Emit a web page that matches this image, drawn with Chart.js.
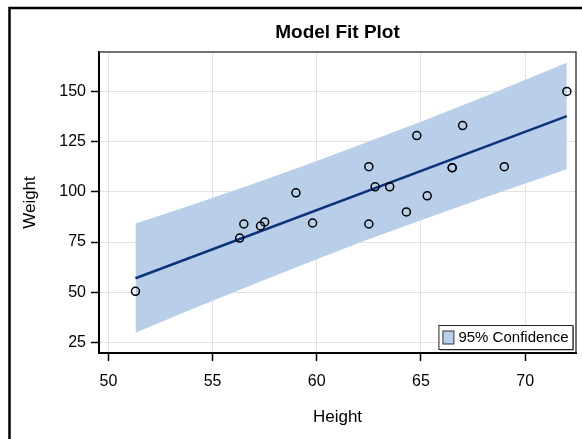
<!DOCTYPE html>
<html lang="en">
<head>
    <meta charset="UTF-8">
    <title>Model Fit Plot</title>
    <script src="https://cdn.jsdelivr.net/npm/chart.js"></script>
    <style>
        body { margin: 0; background: #fff; }
    </style>
</head>
<body>
    <canvas id="fitChart" width="582" height="439"></canvas>

    <script>
    // observed data (Height, Weight)
    const heights = [69.0, 56.5, 65.3, 62.8, 63.5, 57.3, 59.8, 62.5, 62.5, 59.0,
                     51.3, 64.3, 56.3, 66.5, 72.0, 64.8, 67.0, 57.5, 66.5];
    const weights = [112.5, 84.0, 98.0, 102.5, 102.5, 83.0, 84.5, 112.5, 84.0, 99.5,
                     50.5, 90.0, 77.0, 112.0, 150.0, 128.0, 133.0, 85.0, 112.0];

    // regression line end points
    const fitX = [51.3, 72.0];
    const fitY = [57.0, 137.7];

    // 95% band, read at a few heights
    const bandX    = [51.3, 54.0, 57.0, 60.0, 62.3, 65.0, 68.0, 72.0];
    const bandLow  = [29.9, 41.6, 54.2, 66.5, 75.7, 85.9, 97.0, 111.2];
    const bandHigh = [84.2, 93.5, 104.2, 115.4, 124.3, 134.9, 147.2, 164.2];

    const xTicks = [50, 55, 60, 65, 70];
    const yTicks = [25, 50, 75, 100, 125, 150];

    const font = "'Liberation Sans', Arial, sans-serif";
    const bandColor = '#b9cee8';

    const toPts = (xs, ys) => xs.map((x, i) => ({ x: x, y: ys[i] }));

    // white page, outer frame, title, plot frame and inset legend
    const decor = {
        id: 'decor',
        beforeDraw(chart) {
            const ctx = chart.ctx;
            ctx.save();
            ctx.fillStyle = '#fff';
            ctx.fillRect(0, 0, chart.width, chart.height);
            ctx.strokeStyle = '#000';
            ctx.lineWidth = 2.5;
            ctx.beginPath();
            ctx.moveTo(9.5, chart.height);
            ctx.lineTo(9.5, 8);
            ctx.lineTo(chart.width, 8);
            ctx.stroke();

            const a = chart.chartArea;
            ctx.fillStyle = '#000';
            ctx.font = 'bold 19px ' + font;
            ctx.textAlign = 'center';
            ctx.textBaseline = 'middle';
            ctx.fillText('Model Fit Plot', (a.left + a.right) / 2, 33);
            ctx.restore();
        },
        afterDatasetsDraw(chart) {
            const ctx = chart.ctx;
            const a = chart.chartArea;
            ctx.save();
            ctx.strokeStyle = '#444';
            ctx.lineWidth = 1.5;
            ctx.beginPath();
            ctx.moveTo(a.left, a.top);
            ctx.lineTo(a.right, a.top);
            ctx.lineTo(a.right, a.bottom);
            ctx.stroke();

            // legend
            ctx.font = '15px ' + font;
            const label = '95% Confidence';
            const tw = ctx.measureText(label).width;
            const w = tw + 24, h = 24;
            const bx = a.right - 3.5 - w, by = a.bottom - 4 - h;
            ctx.fillStyle = '#888';
            ctx.fillRect(bx + 1.5, by + 1.5, w, h);
            ctx.fillStyle = '#fff';
            ctx.fillRect(bx, by, w, h);
            ctx.strokeStyle = '#222';
            ctx.lineWidth = 1;
            ctx.strokeRect(bx + 0.5, by + 0.5, w, h);
            ctx.fillStyle = bandColor;
            ctx.fillRect(bx + 4.5, by + 6, 11, 13);
            ctx.strokeStyle = '#333';
            ctx.strokeRect(bx + 4.5, by + 6, 11, 13);
            ctx.fillStyle = '#000';
            ctx.textAlign = 'left';
            ctx.textBaseline = 'middle';
            ctx.fillText(label, bx + 20, by + h / 2 + 1);
            ctx.restore();
        }
    };

    new Chart(document.getElementById('fitChart'), {
        type: 'scatter',
        data: {
            datasets: [
                {
                    label: 'Weight',
                    data: toPts(heights, weights),
                    pointRadius: 4,
                    pointBorderWidth: 1.5,
                    pointBorderColor: '#000',
                    pointBackgroundColor: 'rgba(0,0,0,0)'
                },
                {
                    label: 'Fit',
                    data: toPts(fitX, fitY),
                    showLine: true,
                    borderColor: '#0a3479',
                    borderWidth: 2.5,
                    pointRadius: 0
                },
                {
                    label: 'Upper',
                    data: toPts(bandX, bandHigh),
                    showLine: true,
                    borderWidth: 0,
                    pointRadius: 0,
                    backgroundColor: bandColor,
                    fill: 3
                },
                {
                    label: 'Lower',
                    data: toPts(bandX, bandLow),
                    showLine: true,
                    borderWidth: 0,
                    pointRadius: 0,
                    fill: false
                }
            ]
        },
        options: {
            responsive: false,
            animation: false,
            layout: { padding: { top: 52, right: 6, left: 0, bottom: 0 } },
            plugins: {
                legend: { display: false },
                tooltip: { enabled: false }
            },
            scales: {
                x: {
                    type: 'linear',
                    min: 49.55,
                    max: 72.44,
                    afterBuildTicks: s => { s.ticks = xTicks.map(v => ({ value: v })); },
                    afterFit: s => { s.height = 86; },
                    grid: { color: '#e2e2e2', tickColor: '#000', tickLength: 8, tickWidth: 1.5 },
                    border: { color: '#000', width: 2 },
                    ticks: { color: '#000', padding: 11, font: { family: font, size: 16 } },
                    title: {
                        display: true, text: 'Height', color: '#000',
                        font: { family: font, size: 17 }, padding: { bottom: 11 }
                    }
                },
                y: {
                    min: 19.8,
                    max: 169.6,
                    afterBuildTicks: s => { s.ticks = yTicks.map(v => ({ value: v })); },
                    afterFit: s => { s.width = 99; },
                    grid: { color: '#e2e2e2', tickColor: '#000', tickLength: 8, tickWidth: 1.5 },
                    border: { color: '#000', width: 2 },
                    ticks: { color: '#000', padding: 5, font: { family: font, size: 16 } },
                    title: {
                        display: true, text: 'Weight', color: '#000',
                        font: { family: font, size: 17 }, padding: { top: 20 }
                    }
                }
            }
        },
        plugins: [decor]
    });
    </script>
</body>
</html>
